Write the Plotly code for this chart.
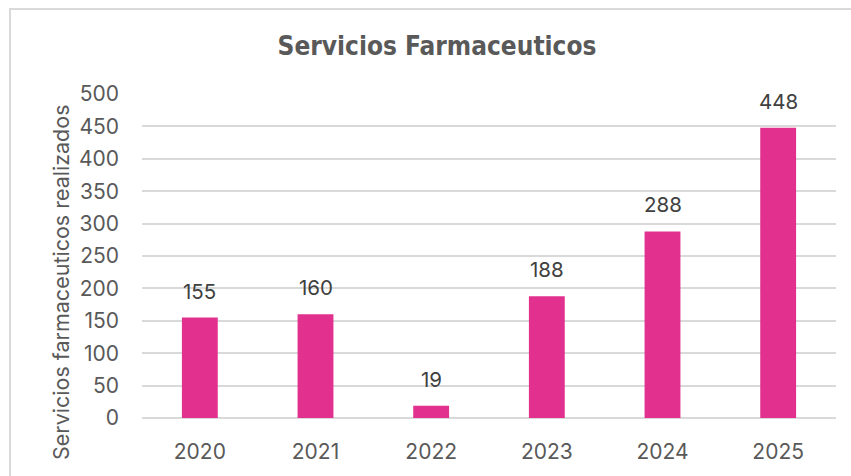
import plotly.graph_objects as go

# Services performed per year
years = ["2020", "2021", "2022", "2023", "2024", "2025"]
services = [155, 160, 19, 188, 288, 448]
y_ticks = [0, 50, 100, 150, 200, 250, 300, 350, 400, 450, 500]

BAR_COLOR = "#E2308F"
TEXT_GRAY = "#595959"
LABEL_GRAY = "#404040"
GRID_GRAY = "#D9D9D9"
FONT = "Inter, Liberation Sans, Arial, sans-serif"
TITLE_FONT = "Liberation Sans Narrow, DejaVu Sans Condensed, Liberation Sans, sans-serif"

fig = go.Figure(
    go.Bar(
        x=list(range(len(years))),
        y=services,
        marker=dict(color=BAR_COLOR, line=dict(width=0)),
        width=0.31,
        hoverinfo="y",
    )
)

# Value labels above each bar
for i, val in enumerate(services):
    fig.add_annotation(
        x=i, y=val, text=str(val), showarrow=False,
        yanchor="bottom", yshift=12,
        font=dict(family=FONT, size=20.5, color=LABEL_GRAY),
    )

W, H = 851, 476
L, R, T, B = 142, 15, 94, 58
pw, ph = W - L - R, H - T - B

def px_to_paper_x(px):
    return (px - L) / pw

def px_to_paper_y(py):
    return (H - B - py) / ph

# Vertical axis caption, placed lower than the plot-area centre
fig.add_annotation(
    xref="paper", yref="paper",
    x=px_to_paper_x(61), y=px_to_paper_y(282),
    text="Servicios farmaceuticos realizados", textangle=-90,
    showarrow=False, xanchor="center", yanchor="middle",
    font=dict(family=FONT, size=21.5, color=TEXT_GRAY),
)

# Outer chart frame
fig.add_shape(
    type="rect", xref="paper", yref="paper", layer="below",
    x0=px_to_paper_x(10), x1=px_to_paper_x(W + 20),
    y0=px_to_paper_y(H + 20), y1=px_to_paper_y(9),
    line=dict(color=GRID_GRAY, width=2), fillcolor="rgba(0,0,0,0)",
)

fig.update_layout(
    width=W, height=H,
    margin=dict(l=L, r=R, t=T, b=B, autoexpand=False),
    paper_bgcolor="white", plot_bgcolor="white",
    showlegend=False,
    title=dict(
        text="<b>Servicios Farmaceuticos</b>",
        x=437 / W, xanchor="center",
        y=1 - 46 / H, yanchor="middle",
        font=dict(family=TITLE_FONT, size=26, color=TEXT_GRAY),
    ),
    xaxis=dict(
        type="linear",
        tickvals=list(range(len(years))), ticktext=years,
        showgrid=False, showline=False, zeroline=False,
        ticks="", ticklabelstandoff=19,
        tickfont=dict(family=FONT, size=21, color=TEXT_GRAY),
        range=[-0.5, len(years) - 0.5],
    ),
    yaxis=dict(
        range=[0, 500], tickvals=y_ticks,
        showgrid=True, gridcolor=GRID_GRAY, gridwidth=1.5,
        zeroline=True, zerolinecolor=GRID_GRAY, zerolinewidth=1.5,
        showline=False, ticks="", ticklabelstandoff=22,
        tickfont=dict(family=FONT, size=21, color=TEXT_GRAY),
    ),
)

fig.write_html("out.html")
